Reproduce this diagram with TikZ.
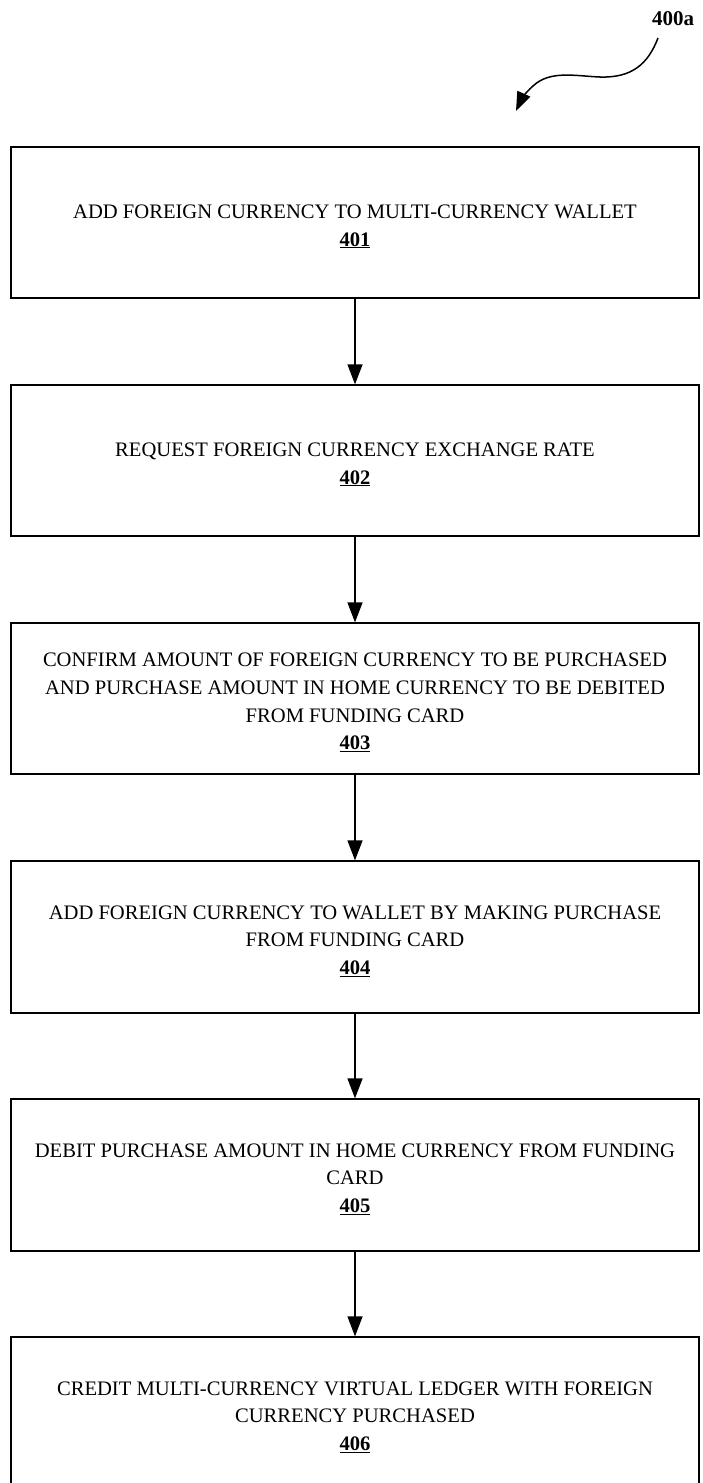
\documentclass[tikz,border=0pt]{standalone}
\usepackage{fontspec}
\setmainfont{Liberation Serif}
\usetikzlibrary{arrows.meta}
\newcommand{\stepno}[1]{\textbf{\underline{#1}}}
\begin{document}
\begin{tikzpicture}[x=1pt,y=-1pt,
  stepbox/.style={draw, line width=1.3pt, minimum width=688pt, inner sep=0pt},
  steptext/.style={align=center, yshift=-4pt, inner sep=0pt,
    font=\fontsize{20.6}{27.6}\selectfont},
  flow/.style={line width=1.4pt, -{Triangle[length=20pt,width=15pt]}}]
\useasboundingbox (0,0) rectangle (702,1483);
% process steps: box outline with its centred caption
\node[stepbox, minimum height=151pt] (s401) at (355,222.5)
  [label={[steptext]center:ADD FOREIGN CURRENCY TO MULTI-CURRENCY WALLET\\\stepno{401}}] {};
\node[stepbox, minimum height=151pt] (s402) at (355,460.5)
  [label={[steptext]center:REQUEST FOREIGN CURRENCY EXCHANGE RATE\\\stepno{402}}] {};
\node[stepbox, minimum height=151pt] (s403) at (355,698.5)
  [label={[steptext]center:CONFIRM AMOUNT OF FOREIGN CURRENCY TO BE PURCHASED\\AND PURCHASE AMOUNT IN HOME CURRENCY TO BE DEBITED\\FROM FUNDING CARD\\\stepno{403}}] {};
\node[stepbox, minimum height=152pt] (s404) at (355,937)
  [label={[steptext]center:ADD FOREIGN CURRENCY TO WALLET BY MAKING PURCHASE\\FROM FUNDING CARD\\\stepno{404}}] {};
\node[stepbox, minimum height=152pt] (s405) at (355,1175)
  [label={[steptext]center:DEBIT PURCHASE AMOUNT IN HOME CURRENCY FROM FUNDING\\CARD\\\stepno{405}}] {};
\node[stepbox, minimum height=152pt] (s406) at (355,1413)
  [label={[steptext]center:CREDIT MULTI-CURRENCY VIRTUAL LEDGER WITH FOREIGN\\CURRENCY PURCHASED\\\stepno{406}}] {};
% connectors
\draw[flow] (s401) -- (s402);
\draw[flow] (s402) -- (s403);
\draw[flow] (s403) -- (s404);
\draw[flow] (s404) -- (s405);
\draw[flow] (s405) -- (s406);
% figure reference
\node[font=\fontsize{21}{23}\selectfont\bfseries] (ref) at (673,19) {400a};
\coordinate (tip) at (516,111);
\draw[line width=1.5pt, -{Triangle[length=19pt,width=14pt]}]
  (658,38) .. controls (648,64) and (632,78) .. (600,77)
  .. controls (575,76) and (550,70) .. (533,86)
  .. controls (525,93) and (521,100) .. (tip);
\end{tikzpicture}
\end{document}
